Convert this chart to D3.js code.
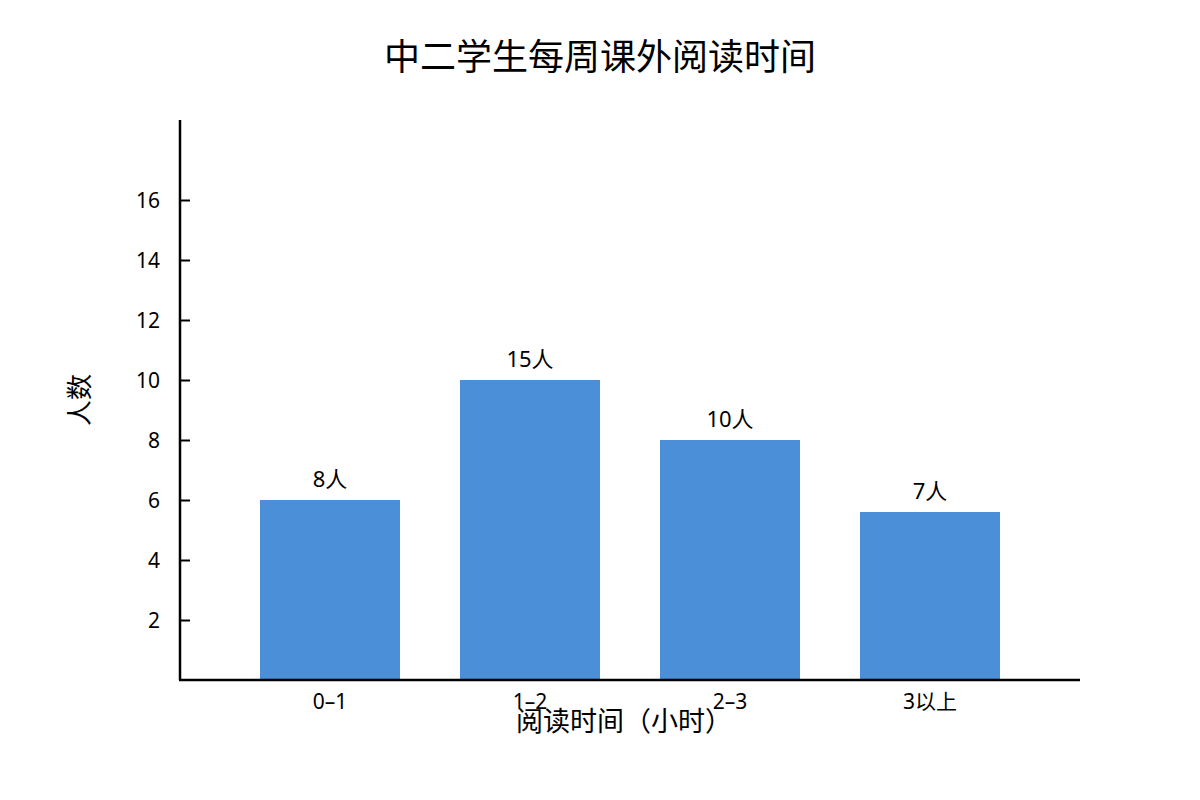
<!DOCTYPE html>
<html><head><meta charset="utf-8">
<script src="https://cdn.jsdelivr.net/npm/d3@7"></script>
<style>body{margin:0;background:#fff;} svg{display:block;} text{font-family:"Noto Sans","Noto Sans CJK SC",sans-serif;fill:#000;}</style>
</head><body>
<svg id="c" width="1200" height="800"></svg>
<script>
const categories = ["0–1", "1–2", "2–3", "3以上"];
const barHeights = [6, 10, 8, 5.6];
const barLabels = ["8人", "15人", "10人", "7人"];
const yTicks = [2, 4, 6, 8, 10, 12, 14, 16];
const yMax = 56 / 3;
const title = "中二学生每周课外阅读时间";
const xTitle = "阅读时间（小时）";
const yTitle = "人数";

(function () {
const FONT = '"Noto Sans","Noto Sans CJK SC",sans-serif';
const svg = d3.select("#c");
const mLeft = 180, mRight = 1080, mTop = 120, mBottom = 680;

const x = d3.scaleBand().domain(categories).range([mLeft, mRight]).paddingInner(0.3).paddingOuter(0.4);
const y = d3.scaleLinear().domain([0, yMax]).range([mBottom, mTop]);

svg.append("text").attr("x", 600).attr("y", 70).attr("text-anchor", "middle")
  .style("font-size", "36px").text(title);

svg.selectAll("rect.bar").data(categories).enter().append("rect")
  .attr("class", "bar")
  .attr("x", d => x(d)).attr("width", x.bandwidth())
  .attr("y", (d, i) => y(barHeights[i]))
  .attr("height", (d, i) => y(0) - y(barHeights[i]))
  .attr("fill", "#4a8fd8");

svg.selectAll("text.val").data(categories).enter().append("text")
  .attr("class", "val")
  .attr("x", d => x(d) + x.bandwidth() / 2)
  .attr("y", (d, i) => y(barHeights[i]) - 13)
  .attr("text-anchor", "middle").style("font-size", "22px")
  .text((d, i) => barLabels[i]);

const yAxis = svg.append("g").attr("transform", `translate(${mLeft},0)`)
  .call(d3.axisRight(y).tickValues(yTicks).tickSize(10).tickFormat(d3.format("d")));
yAxis.select(".domain").remove();
yAxis.selectAll(".tick line").attr("stroke", "#000").attr("stroke-width", 2);
yAxis.selectAll(".tick text").attr("x", -20).attr("text-anchor", "end")
  .attr("dy", "0.35em").style("font-size", "21px").style("font-family", FONT).attr("fill", "#000");
svg.append("line").attr("x1", mLeft).attr("x2", mLeft).attr("y1", y(yMax)).attr("y2", y(0))
  .attr("stroke", "#000").attr("stroke-width", 2.5);

const xAxis = svg.append("g").attr("transform", `translate(0,${mBottom})`)
  .call(d3.axisBottom(x).tickSize(0).tickPadding(14));
xAxis.select(".domain").remove();
xAxis.selectAll(".tick text").style("font-size", "21px").style("font-family", FONT).attr("fill", "#000");
svg.append("line").attr("x1", mLeft - 1).attr("x2", mRight).attr("y1", y(0)).attr("y2", y(0))
  .attr("stroke", "#000").attr("stroke-width", 2.5);

svg.append("text").attr("x", 624).attr("y", 731).attr("text-anchor", "middle")
  .style("font-size", "27px").text(xTitle);

svg.append("text").attr("transform", "translate(89,400) rotate(-90)").attr("text-anchor", "middle")
  .style("font-size", "26px").text(yTitle);
})();
</script>
</body></html>
